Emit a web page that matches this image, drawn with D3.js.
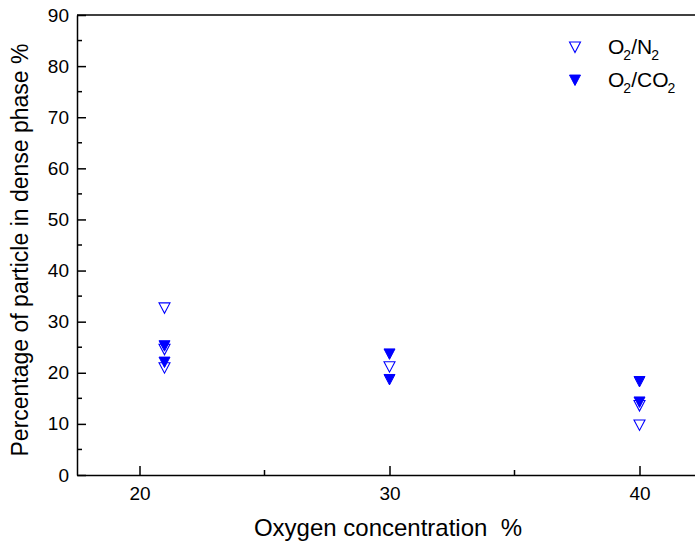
<!DOCTYPE html>
<html>
<head>
<meta charset="utf-8">
<script src="https://cdn.jsdelivr.net/npm/d3@7/dist/d3.min.js"></script>
<style>
  html, body { margin: 0; padding: 0; background: #fff; }
  svg { display: block; font-family: "Liberation Sans", Arial, sans-serif; }
  text { white-space: pre; }
</style>
</head>
<body>
<svg id="chart" width="695" height="546"></svg>
<script>
// Dense-phase particle share versus oxygen concentration
const xN2 = [21, 21, 21, 30, 40, 40];
const yN2 = [32.7, 24.6, 21, 21.2, 13.6, 9.8];
const xCO2 = [21, 21, 30, 30, 40, 40];
const yCO2 = [25.3, 22.1, 23.7, 18.7, 18.3, 14.3];
const xTicks = [20, 30, 40];
const xMinorTicks = [25, 35];
const yTicks = [0, 10, 20, 30, 40, 50, 60, 70, 80, 90];
const yMinorTicks = [5, 15, 25, 35, 45, 55, 65, 75, 85];
const legendLabels = [["O", "2", "/N", "2"], ["O", "2", "/CO", "2"]];

const svg = d3.select("#chart");
const plotL = 77, plotT = 15, plotR = 702, plotB = 475;
const blue = "#0000ff";

const x = d3.scaleLinear().domain([17.5, 42.5]).range([plotL, plotR]);
const y = d3.scaleLinear().domain([0, 90]).range([plotB, plotT]);

// frame: top border
svg.append("line").attr("x1", plotL).attr("x2", plotR).attr("y1", plotT).attr("y2", plotT)
  .attr("stroke", "#000").attr("stroke-width", 1.5);

// x axis with inward ticks
const gx = svg.append("g").attr("transform", `translate(0,${plotB})`);
gx.call(d3.axisBottom(x).tickValues(xTicks).tickSizeInner(-9).tickSizeOuter(0).tickPadding(12).tickFormat(d3.format("d")));
gx.append("g").selectAll("line").data(xMinorTicks).join("line")
  .attr("x1", d => x(d)).attr("x2", d => x(d)).attr("y1", 0).attr("y2", -5)
  .attr("stroke", "#000").attr("stroke-width", 1.5);

// y axis with inward ticks
const gy = svg.append("g").attr("transform", `translate(${plotL},0)`);
gy.call(d3.axisLeft(y).tickValues(yTicks).tickSizeInner(-9).tickSizeOuter(0).tickPadding(8).tickFormat(d3.format("d")));
gy.append("g").selectAll("line").data(yMinorTicks).join("line")
  .attr("y1", d => y(d)).attr("y2", d => y(d)).attr("x1", 0).attr("x2", 5)
  .attr("stroke", "#000").attr("stroke-width", 1.5);

[gx, gy].forEach(g => {
  g.select(".domain").attr("stroke", "#000").attr("stroke-width", 1.5);
  g.selectAll(".tick line").attr("stroke", "#000").attr("stroke-width", 1.5);
  g.selectAll(".tick text").attr("fill", "#000").attr("font-size", 19)
    .attr("font-family", "Liberation Sans, Arial, sans-serif");
});

// axis titles
svg.append("text").attr("x", 388).attr("y", 536).attr("text-anchor", "middle")
  .attr("font-size", 24).attr("fill", "#000").text("Oxygen concentration  %");
svg.append("text").attr("transform", `translate(28,${(plotT + plotB) / 2 + 5}) rotate(-90)`)
  .attr("text-anchor", "middle").attr("font-size", 23).attr("fill", "#000")
  .text("Percentage of particle in dense phase %");

// down-pointing triangle marker
const tri = d3.symbol().type({
  draw(ctx, size) {
    const w = 5.5, h = 5.5;
    ctx.moveTo(-w, -h * 0.9);
    ctx.lineTo(w, -h * 0.9);
    ctx.lineTo(0, h * 1.0);
    ctx.closePath();
  }
})();

const n2 = xN2.map((d, i) => [d, yN2[i]]);
const co2 = xCO2.map((d, i) => [d, yCO2[i]]);

svg.append("g").selectAll("path").data(n2).join("path")
  .attr("d", tri).attr("transform", d => `translate(${x(d[0])},${y(d[1])})`)
  .attr("fill", "none").attr("stroke", blue).attr("stroke-width", 1.1);
svg.append("g").selectAll("path").data(co2).join("path")
  .attr("d", tri).attr("transform", d => `translate(${x(d[0])},${y(d[1])})`)
  .attr("fill", blue).attr("stroke", blue).attr("stroke-width", 1);

// legend
const leg = svg.append("g");
legendLabels.forEach((parts, i) => {
  const ly = 47 + i * 33;
  leg.append("path").attr("d", tri).attr("transform", `translate(575,${ly})`)
    .attr("fill", i === 0 ? "none" : blue).attr("stroke", blue).attr("stroke-width", i === 0 ? 1.1 : 1);
  const t = leg.append("text").attr("x", 608).attr("y", ly + 7).attr("font-size", 21).attr("fill", "#000");
  parts.forEach((p, j) => {
    const sub = j % 2 === 1;
    t.append("tspan").text(p).attr("font-size", sub ? 14 : 21)
      .attr("dx", sub ? -1 : 0)
      .attr("dy", sub ? 6 : (j === 0 ? 0 : -6));
  });
});
</script>
</body>
</html>
